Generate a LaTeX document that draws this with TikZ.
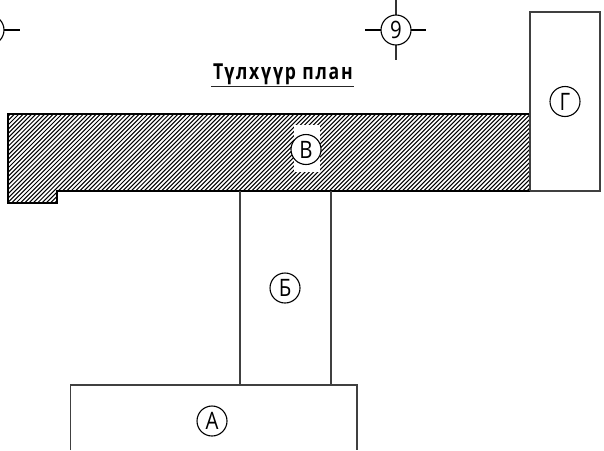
\documentclass[tikz,border=0pt]{standalone}
\usepackage{graphicx}
\usepackage{fontspec}
\setmainfont{Liberation Sans}
\newfontfamily\plainlabel{Open Sans}
\newfontfamily\titlefont[LetterSpace=10]{Open Sans}
\newcommand{\narrowlabel}[1]{\scalebox{0.85}[1]{#1}}
\begin{document}
\begin{tikzpicture}[x=1pt,y=-1pt,
  wall/.style={draw=black,line width=1.05pt},
  thin wall/.style={draw=black!75,line width=1.05pt},
  bubble/.style={circle,draw=black,line width=1.1pt,fill=white,minimum size=30pt,inner sep=0pt,font=\plainlabel\fontsize{24}{24}\selectfont},
  hatchline/.style={draw=black,line width=1.05pt}]
\useasboundingbox (0,0) rectangle (604,450);
\fill[white] (0,0) rectangle (604,450);
% hatch
\begin{scope}
\clip (8,114) -- (530,114) -- (530,191) -- (57,191) -- (57,203) -- (8,203) -- cycle;
\foreach \i in {0,...,170}{
  \draw[hatchline] ({8+\i*4.3-100},203.5) -- ++(100,-100);
}
\end{scope}
\draw[wall] (8,114) -- (530,114) -- (530,191) -- (57,191) -- (57,203) -- (8,203) -- cycle;
% boxes
\draw[thin wall] (530,191) -- (530,12) -- (600,12) -- (600,191) -- (530,191);
\draw[thin wall] (240,191) -- (240,385);
\draw[thin wall] (331,191) -- (331,385);
\draw[thin wall] (70.5,450) -- (70.5,385) -- (357,385) -- (357,450);
% patch
\fill[white] (294,125) rectangle (320,172);
% grid bubbles
\draw[line width=1.1pt] (-11,30) -- (19.5,30);
\draw[line width=1.1pt] (365,30) -- (426,30);
\draw[line width=1.3pt,black!80] (396,0) -- (396,60);
\node[bubble] (axisL) at (-11,30) {};
\node[bubble] (axisN) at (396,30) {\narrowlabel{9}};
\node[bubble] (labG) at (565,101.5) {\narrowlabel{Г}};
\node[bubble] (labV) at (306,149.5) {\narrowlabel{В}};
\node[bubble] (labB) at (285,288) {\narrowlabel{Б}};
\node[bubble] (labA) at (212,421) {\narrowlabel{А}};
% title
\node[anchor=base west,inner sep=0pt,font=\titlefont\bfseries\fontsize{22}{22}\selectfont] (title) at (213,79.5) {\scalebox{0.8}[1]{Түлхүүр план}};
\draw[line width=1.2pt,black!85] (211,86.5) -- (354,86.5);
\end{tikzpicture}
\end{document}
